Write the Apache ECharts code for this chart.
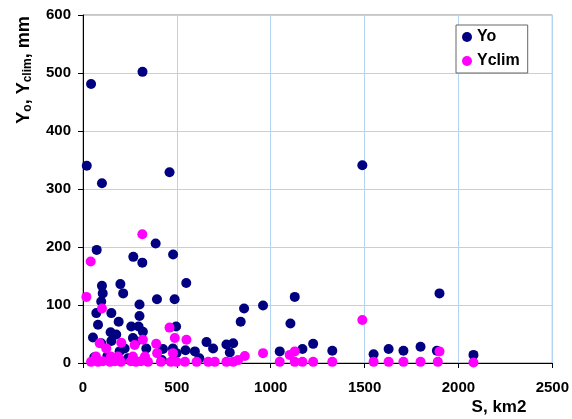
<!DOCTYPE html>
<html>
<head>
<meta charset="utf-8">
<script src="https://cdn.jsdelivr.net/npm/echarts@6/dist/echarts.min.js"></script>
<style>html,body{margin:0;padding:0;background:#fff}#c{width:572px;height:419px}</style>
</head>
<body>
<div id="c"></div>
<script>
// [S km2, Yo mm]
var yoPoints = [
  [20,340],[43,481],[317,502],[101,310],[461,329],[1488,341],
  [73,195],[268,183],[316,173],[387,206],[480,187],
  [550,138],[101,133],[199,136],
  [105,120],[214,120],[97,106],[394,110],[488,110],[301,101],
  [71,86],[151,86],[190,71],[301,81],[296,63],[80,66],[147,53],[177,49],[257,63],[319,54],
  [53,44],[97,34],[151,38],[266,43],[284,37],[337,25],[222,25],[426,24],[479,25],[496,63],[195,20],
  [858,94],[959,99],[840,71],[658,36],[693,25],[764,32],[800,34],[546,22],[596,20],[782,18],[498,17],
  [1128,114],[1105,68],[1048,20],[1169,24],[1226,33],[1328,21],[1548,15],[1628,24],[1707,21],
  [1798,28],[1885,21],[1899,120],[2080,14],
  [60,10],[130,12],[240,8],[420,5],[620,8]
];
// [S km2, Yclim mm]
var yclimPoints = [
  [18,114],[41,175],[316,222],[101,94],[461,61],[204,35],[89,34],[124,25],[319,40],[390,33],
  [275,31],[395,17],[479,17],
  [43,2],[80,2],[106,3],[144,2],[170,3],[202,2],[255,3],[282,2],[309,3],[346,2],[415,2],[468,2],
  [69,11],[149,11],[186,11],[266,11],[330,11],
  [551,40],[489,43],[959,17],[862,12],[826,5],
  [498,2],[543,2],[605,2],[667,2],[702,2],[764,2],[800,2],
  [1488,74],[1101,14],[1128,20],[1899,20],
  [1048,2],[1128,2],[1169,2],[1226,2],[1328,2],[1548,2],[1628,2],[1707,2],[1798,2],[1890,2],[2080,1]
];
var seriesNames = ['Yo', 'Yclim'];
var xTitle = 'S, km2';

var chart = echarts.init(document.getElementById('c'), null, {renderer: 'canvas'});
var gridColor = '#b4d4f4';
var lbl = {fontFamily: 'Liberation Sans, Arial, sans-serif', fontWeight: 'bold', fontSize: 15, color: '#000',
  formatter: function (v) { return String(v); }};
chart.setOption({
  animation: false,
  backgroundColor: '#fff',
  grid: {left: 83, right: 19, top: 15, bottom: 56, show: true, borderColor: '#888', borderWidth: 1, backgroundColor: 'transparent'},
  xAxis: {
    type: 'value', min: 0, max: 2500, interval: 500,
    axisLine: {show: true, onZero: false, lineStyle: {color: '#000', width: 1}},
    axisTick: {show: true, length: 5, inside: false, lineStyle: {color: '#000'}},
    axisLabel: Object.assign({}, lbl, {margin: 17}),
    splitLine: {show: true, lineStyle: {color: gridColor, width: 1}}
  },
  yAxis: {
    type: 'value', min: 0, max: 600, interval: 100,
    axisLine: {show: true, onZero: false, lineStyle: {color: '#000', width: 1}},
    axisTick: {show: true, length: 5, inside: false, lineStyle: {color: '#000'}},
    axisLabel: Object.assign({}, lbl, {margin: 12}),
    splitLine: {show: true, lineStyle: {color: gridColor, width: 1}}
  },
  legend: {
    orient: 'vertical', left: 456, top: 25,
    padding: [4, 8, 4, 6], itemGap: 8, itemWidth: 10, itemHeight: 10,
    backgroundColor: '#fff', borderColor: '#666', borderWidth: 1, borderRadius: 0,
    textStyle: {fontFamily: 'Liberation Sans, Arial, sans-serif', fontWeight: 'bold', fontSize: 16, color: '#000', padding: [0,0,0,0]},
    data: [{name: seriesNames[0], icon: 'circle'}, {name: seriesNames[1], icon: 'circle'}]
  },
  series: [
    {name: seriesNames[0], type: 'scatter', data: yoPoints, symbol: 'circle', symbolSize: 10,
     itemStyle: {color: '#000080', opacity: 1}},
    {name: seriesNames[1], type: 'scatter', data: yclimPoints, symbol: 'circle', symbolSize: 10,
     itemStyle: {color: '#ff00ff', opacity: 1}}
  ],
  graphic: [
    {type: 'text', x: 24, y: 70, rotation: Math.PI / 2,
     style: {
       text: '{a|Y}{s|o}{a|, Y}{s|clim}{a|, mm}',
       align: 'center', verticalAlign: 'middle',
       rich: {
         a: {fontFamily: 'Liberation Sans, Arial, sans-serif', fontWeight: 'bold', fontSize: 18, lineHeight: 20, fill: '#000'},
         s: {fontFamily: 'Liberation Sans, Arial, sans-serif', fontWeight: 'bold', fontSize: 12, lineHeight: 12, verticalAlign: 'bottom', fill: '#000'}
       }
     }},
    {type: 'text', x: 499, y: 407,
     style: {text: xTitle, align: 'center', verticalAlign: 'middle',
       font: 'bold 17px "Liberation Sans", Arial, sans-serif', fill: '#000'}}
  ]
});
</script>
</body>
</html>
